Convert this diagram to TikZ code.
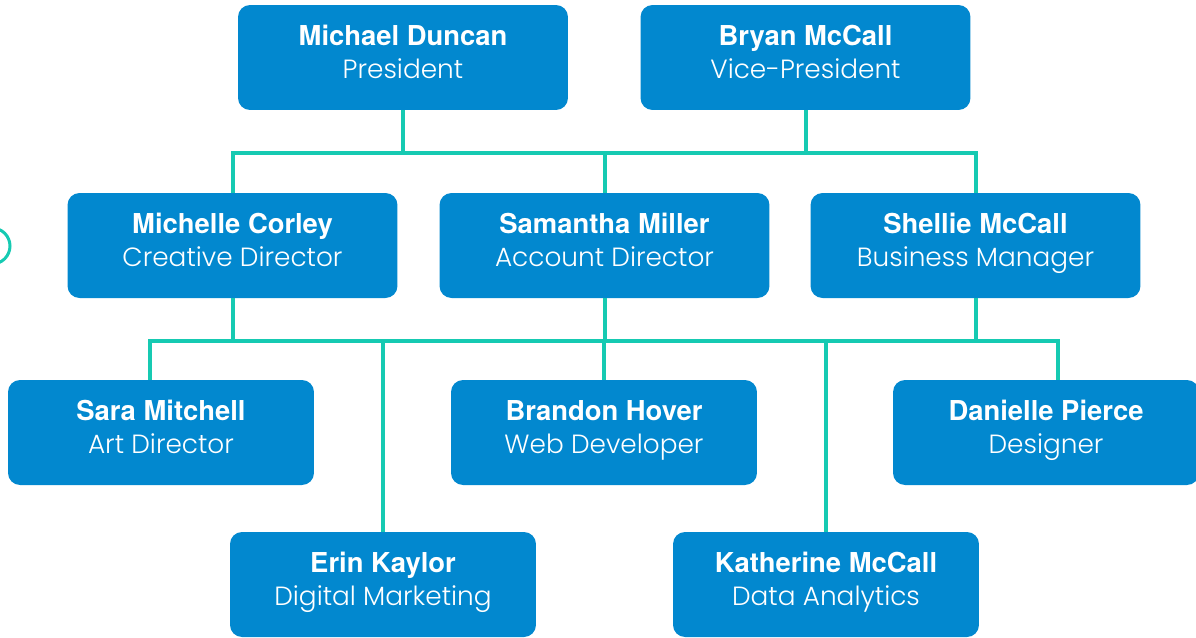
\documentclass[tikz,border=0pt]{standalone}
\usepackage{fontspec}
\usepackage{tikz}
\usetikzlibrary{positioning}
\newfontfamily\namefont{TeX Gyre Heros}
\newfontfamily\rolefont{Poppins Light}

\definecolor{boxblue}{RGB}{2,136,207}
\definecolor{linkteal}{RGB}{22,202,178}

\newcommand{\pad}{\rule[-7pt]{0pt}{18.6pt}}
\newcommand{\who}[2]{{\namefont\bfseries\fontsize{15.6}{18.8}\selectfont\pad #1}\\{\rolefont\fontsize{15}{18.8}\selectfont\pad #2}}

\tikzset{
  staff/.style={rectangle, rounded corners=0.24cm, fill=boxblue, text=white,
    align=center, minimum height=2.1cm, inner sep=0pt,
    font=\fontsize{15}{18.8}\selectfont},
  senior/.style={staff, minimum width=6.6cm},
  junior/.style={staff, minimum width=6.12cm},
  link/.style={draw=linkteal, line width=0.08cm},
}

\begin{document}
\begin{tikzpicture}[x=0.02cm,y=-0.02cm]
\useasboundingbox (0,0) rectangle (1196,637);

\draw[linkteal, line width=0.06cm] (-8,246) circle (0.36cm);

% board
\node[senior] (md) at (403,57.5) {\who{Michael Duncan}{President}};
\node[senior] (bm) at (805.5,57.5) {\who{Bryan McCall}{Vice-President}};

% directors
\node[senior] (mc) at (232.5,245.5) {\who{Michelle Corley}{Creative Director}};
\node[senior] (sm) at (604.5,245.5) {\who{Samantha Miller}{Account Director}};
\node[senior] (sh) at (975.5,245.5) {\who{Shellie McCall}{Business Manager}};

% staff
\node[junior] (sa) at (161,432.5) {\who{Sara Mitchell}{Art Director}};
\node[junior] (bh) at (604,432.5) {\who{Brandon Hover}{Web Developer}};
\node[junior] (dp) at (1046,432.5) {\who{Danielle Pierce}{Designer}};
\node[junior] (ek) at (383,584.5) {\who{Erin Kaylor}{Digital Marketing}};
\node[junior] (km) at (826,584.5) {\who{Katherine McCall}{Data Analytics}};

\coordinate (upper) at (0,153);
\coordinate (lower) at (0,341);

\draw[link] (md.south) -- (md.south |- upper);
\draw[link] (bm.south) -- (bm.south |- upper);
\draw[link] (mc.north) |- (sh.north |- upper) -- (sh.north);
\draw[link] (sm.north) -- (sm.north |- upper);

\draw[link] (mc.south) -- (mc.south |- lower);
\draw[link] (sm.south) -- (sm.south |- lower);
\draw[link] (sh.south) -- (sh.south |- lower);
\draw[link] ([xshift=-0.22cm]sa.north) |- ([xshift=0.24cm]dp.north |- lower) -- ([xshift=0.24cm]dp.north);
\draw[link] (ek.north) -- (ek.north |- lower);
\draw[link] (bh.north) -- (bh.north |- lower);
\draw[link] (km.north) -- (km.north |- lower);
\end{tikzpicture}
\end{document}
